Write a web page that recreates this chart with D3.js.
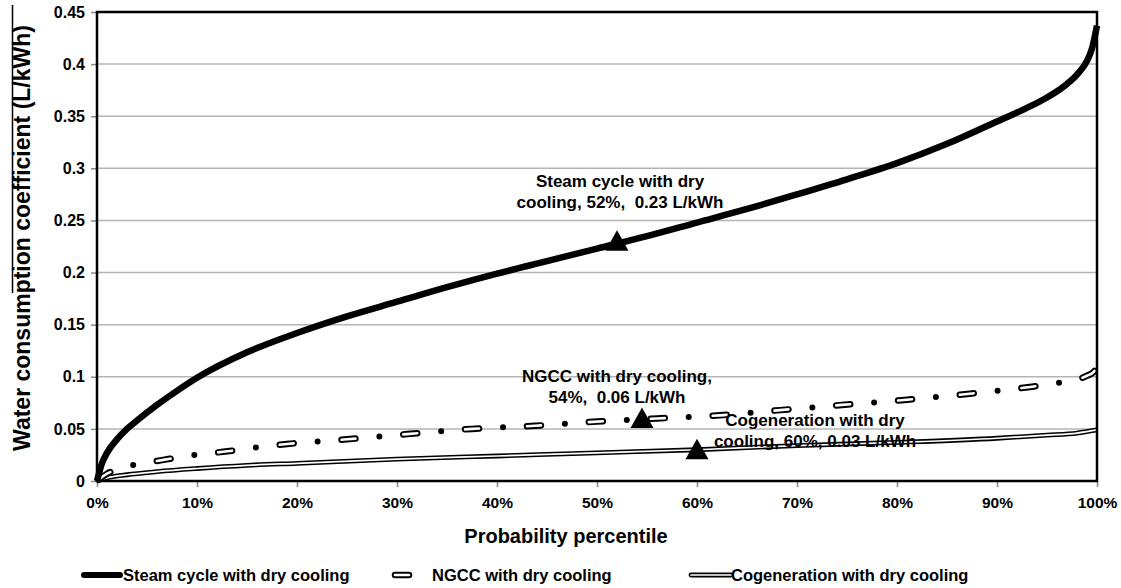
<!DOCTYPE html>
<html><head><meta charset="utf-8">
<script src="https://cdn.jsdelivr.net/npm/d3@7/dist/d3.min.js"></script>
<style>
html,body{margin:0;padding:0;background:#fff;}
text{font-family:Arial,"Liberation Sans",Helvetica,sans-serif;font-weight:bold;fill:#000;white-space:pre;}
</style></head>
<body>
<svg id="chart" width="1121" height="588"></svg>
<script>
// ---- data ----
const steamPct = [0,0.5,1,2,3,4,6,8,10,15,20,25,30,35,40,45,50,55,60,65,70,75,80,85,90,93,95,97,98,99,99.5,100];
const steamVal = [0,0.017,0.027,0.040,0.050,0.058,0.073,0.0865,0.099,0.1235,0.142,0.158,0.172,0.186,0.199,0.211,0.223,0.235,0.248,0.261,0.275,0.2895,0.305,0.3235,0.345,0.358,0.368,0.381,0.390,0.403,0.415,0.437];
const ngccPct = [0,1,2,3.5,6.5,9.7,12.6,15.8,19,25,31,37.5,43.8,50,56,62.3,68.3,74.5,81,87.5,93.5,96.6,99,99.7,100];
const ngccVal = [0,0.007,0.011,0.015,0.020,0.025,0.028,0.032,0.0355,0.040,0.045,0.050,0.053,0.057,0.060,0.063,0.068,0.073,0.078,0.084,0.0905,0.095,0.101,0.105,0.111];
const cogenPct = [0,1,3,6,10,15,20,30,40,50,60,70,80,90,95,98,100];
const cogenVal = [0,0.003,0.006,0.009,0.012,0.015,0.017,0.021,0.024,0.027,0.030,0.034,0.037,0.041,0.044,0.046,0.049];
const markers = [
  {name:"Steam cycle with dry cooling", pct:52, val:0.23, lines:["Steam cycle with dry","cooling, 52%,  0.23 L/kWh"]},
  {name:"NGCC with dry cooling", pct:54.5, val:0.06, lines:["NGCC with dry cooling,","54%,  0.06 L/kWh"]},
  {name:"Cogeneration with dry cooling", pct:60, val:0.03, lines:["Cogeneration with dry","cooling, 60%, 0.03 L/kWh"]}
];
const yTicks = [0,0.05,0.1,0.15,0.2,0.25,0.3,0.35,0.4,0.45];
const yTickLabels = ["0","0.05","0.1","0.15","0.2","0.25","0.3","0.35","0.4","0.45"];
const xTicks = [0,10,20,30,40,50,60,70,80,90,100];
const xTickLabels = ["0%","10%","20%","30%","40%","50%","60%","70%","80%","90%","100%"];
const seriesNames = ["Steam cycle with dry cooling","NGCC with dry cooling","Cogeneration with dry cooling"];

// ---- layout ----
const L=97, R=1097, T=12, B=481;
const svg = d3.select("#chart");
const x = d3.scaleLinear().domain([0,100]).range([L,R]);
const y = d3.scaleLinear().domain([0,0.45]).range([B,T]);

// gridlines
svg.append("g").selectAll("line").data(yTicks.slice(1,-1)).join("line")
  .attr("x1",L).attr("x2",R).attr("y1",d=>y(d)).attr("y2",d=>y(d))
  .attr("stroke","#b4b4b4").attr("stroke-width",1.5);

// axes
const yAxis = d3.axisLeft(y).tickValues(yTicks).tickFormat((d,i)=>yTickLabels[i]).tickSize(6).tickPadding(6);
const gy = svg.append("g").attr("transform",`translate(${L},0)`).call(yAxis);
gy.select(".domain").remove();
gy.selectAll(".tick line").attr("stroke","#888").attr("stroke-width",1.5);
gy.selectAll(".tick text").style("font-size","16px").style("font-family","Arial,'Liberation Sans',sans-serif").style("font-weight","bold").attr("fill","#000");

const xAxis = d3.axisBottom(x).tickValues(xTicks).tickFormat((d,i)=>xTickLabels[i]).tickSize(6).tickPadding(10);
const gx = svg.append("g").attr("transform",`translate(0,${B})`).call(xAxis);
gx.select(".domain").remove();
gx.selectAll(".tick line").attr("stroke","#888").attr("stroke-width",1.5);
gx.selectAll(".tick text").style("font-size","15.5px").style("font-family","Arial,'Liberation Sans',sans-serif").style("font-weight","bold").attr("fill","#000");

// series
const line = d3.line().x(d=>x(d[0])).y(d=>y(d[1])).curve(d3.curveMonotoneX);
const steam = steamPct.map((p,i)=>[p,steamVal[i]]);
const ngcc = ngccPct.map((p,i)=>[p,ngccVal[i]]);
const cogen = cogenPct.map((p,i)=>[p,cogenVal[i]]);

// cogeneration: double line
svg.append("path").attr("d",line(cogen)).attr("fill","none").attr("stroke","#000").attr("stroke-width",4.8);
svg.append("path").attr("d",line(cogen)).attr("fill","none").attr("stroke","#fff").attr("stroke-width",1.7);

// NGCC: hollow dash + dot
svg.append("path").attr("d",line(ngcc)).attr("fill","none").attr("stroke","#000").attr("stroke-width",6.5)
  .attr("stroke-linecap","round").attr("stroke-dasharray","14 48").attr("stroke-dashoffset",-2);
svg.append("path").attr("d",line(ngcc)).attr("fill","none").attr("stroke","#fff").attr("stroke-width",2.6)
  .attr("stroke-linecap","round").attr("stroke-dasharray","14 48").attr("stroke-dashoffset",-2);
svg.append("path").attr("d",line(ngcc)).attr("fill","none").attr("stroke","#000").attr("stroke-width",6)
  .attr("stroke-linecap","round").attr("stroke-dasharray","0 62").attr("stroke-dashoffset",22);

// steam
svg.append("path").attr("d",line(steam)).attr("fill","none").attr("stroke","#000").attr("stroke-width",6.5)
  .attr("stroke-linejoin","round");

// plot border
svg.append("rect").attr("x",L).attr("y",T).attr("width",R-L).attr("height",B-T)
  .attr("fill","none").attr("stroke","#000").attr("stroke-width",2.5);

// markers
const tri = "M0,-11L11.5,9.5L-11.5,9.5Z";
svg.append("g").selectAll("path").data(markers).join("path")
  .attr("d",tri).attr("transform",d=>`translate(${x(d.pct)},${y(d.val)})`).attr("fill","#000");

// annotation labels
const annPos = [{cx:620, y1:187, y2:208}, {cx:617, y1:382, y2:403}, {cx:815, y1:426, y2:447}];
markers.forEach((m,i)=>{
  const g = svg.append("g");
  g.append("text").attr("x",annPos[i].cx).attr("y",annPos[i].y1).attr("text-anchor","middle").style("font-size","17px").text(m.lines[0]);
  g.append("text").attr("x",annPos[i].cx).attr("y",annPos[i].y2).attr("text-anchor","middle").style("font-size","17px").text(m.lines[1]);
});

// axis titles
svg.append("text").attr("x",566).attr("y",543).attr("text-anchor","middle").style("font-size","20px").text("Probability percentile");
svg.append("text").attr("transform","translate(30,238) rotate(-90)").attr("text-anchor","middle").style("font-size","23px").text("Water consumption coefficient (L/kWh)");
// stray overline over the y title in the source image
svg.append("line").attr("x1",12.5).attr("x2",12.5).attr("y1",5).attr("y2",293).attr("stroke","#000").attr("stroke-width",1.5);

// legend
const lg = svg.append("g");
const ly = 575;
lg.append("line").attr("x1",84).attr("x2",120).attr("y1",ly).attr("y2",ly).attr("stroke","#000").attr("stroke-width",6).attr("stroke-linecap","round");
lg.append("text").attr("x",123).attr("y",ly+6).style("font-size","16.5px").text(seriesNames[0]);
lg.append("line").attr("x1",395).attr("x2",409).attr("y1",ly).attr("y2",ly).attr("stroke","#000").attr("stroke-width",6.5).attr("stroke-linecap","round");
lg.append("line").attr("x1",395).attr("x2",409).attr("y1",ly).attr("y2",ly).attr("stroke","#fff").attr("stroke-width",2.6).attr("stroke-linecap","round");
lg.append("text").attr("x",432).attr("y",ly+6).style("font-size","16.5px").text(seriesNames[1]);
lg.append("line").attr("x1",691).attr("x2",731).attr("y1",ly).attr("y2",ly).attr("stroke","#000").attr("stroke-width",4.8).attr("stroke-linecap","round");
lg.append("line").attr("x1",691).attr("x2",731).attr("y1",ly).attr("y2",ly).attr("stroke","#fff").attr("stroke-width",1.7).attr("stroke-linecap","round");
lg.append("text").attr("x",731).attr("y",ly+6).style("font-size","16.5px").text(seriesNames[2]);
</script>
</body></html>
